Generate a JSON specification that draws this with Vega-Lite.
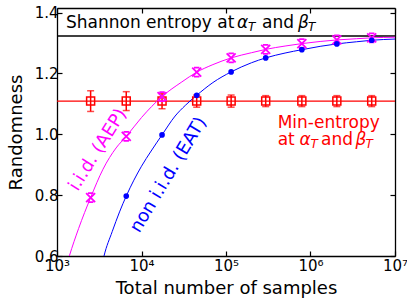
{
  "$schema": "https://vega.github.io/schema/vega-lite/v6.json",
  "width": 338,
  "height": 248,
  "autosize": {"type": "none"},
  "padding": {"left": 57, "top": 8, "right": 12, "bottom": 49},
  "config": {
    "font": "DejaVu Sans",
    "text": {"font": "DejaVu Sans"},
    "view": {"stroke": null},
    "axis": {
      "domainColor": "black",
      "domainWidth": 1.3,
      "tickColor": "black",
      "tickWidth": 1.2,
      "grid": false,
      "labelFont": "DejaVu Sans",
      "labelFontSize": 15,
      "labelColor": "black",
      "titleFont": "DejaVu Sans",
      "titleFontSize": 18,
      "titleFontWeight": "normal",
      "titleColor": "black",
      "labelFlush": false,
      "labelOverlap": false
    }
  },
  "datasets": {
    "pts": [
      {"n": 2500, "iid": 0.792, "noniid": null, "minent": 1.109, "err": 0.034},
      {"n": 6600, "iid": 0.993, "noniid": 0.797, "minent": 1.109, "err": 0.031},
      {"n": 17500, "iid": 1.124, "noniid": 0.998, "minent": 1.109, "err": 0.025},
      {"n": 45000, "iid": 1.204, "noniid": 1.128, "minent": 1.109, "err": 0.02},
      {"n": 115000, "iid": 1.251, "noniid": 1.205, "minent": 1.109, "err": 0.02},
      {"n": 295000, "iid": 1.279, "noniid": 1.251, "minent": 1.109, "err": 0.018},
      {"n": 790000, "iid": 1.298, "noniid": 1.278, "minent": 1.109, "err": 0.018},
      {"n": 2050000, "iid": 1.310, "noniid": 1.297, "minent": 1.109, "err": 0.018},
      {"n": 5300000, "iid": 1.317, "noniid": 1.309, "minent": 1.109, "err": 0.018}
    ],
    "iidcurve": [
      {"n": 1300, "r": 0.57}, {"n": 1400, "r": 0.60}, {"n": 1800, "r": 0.69},
      {"n": 2500, "r": 0.792}, {"n": 3500, "r": 0.885}, {"n": 5000, "r": 0.955},
      {"n": 6600, "r": 0.993}, {"n": 10000, "r": 1.055}, {"n": 17500, "r": 1.124},
      {"n": 30000, "r": 1.172}, {"n": 45000, "r": 1.204}, {"n": 70000, "r": 1.229},
      {"n": 115000, "r": 1.251}, {"n": 200000, "r": 1.268}, {"n": 295000, "r": 1.279},
      {"n": 500000, "r": 1.290}, {"n": 790000, "r": 1.298}, {"n": 1300000, "r": 1.305},
      {"n": 2050000, "r": 1.310}, {"n": 3500000, "r": 1.314}, {"n": 5300000, "r": 1.317},
      {"n": 10000000, "r": 1.319}
    ],
    "noniidcurve": [
      {"n": 3400, "r": 0.57}, {"n": 3600, "r": 0.60}, {"n": 4500, "r": 0.68},
      {"n": 5500, "r": 0.745}, {"n": 6600, "r": 0.797}, {"n": 10000, "r": 0.895},
      {"n": 13000, "r": 0.945}, {"n": 17500, "r": 0.998}, {"n": 25000, "r": 1.06},
      {"n": 33000, "r": 1.095}, {"n": 45000, "r": 1.128}, {"n": 70000, "r": 1.170},
      {"n": 115000, "r": 1.205}, {"n": 200000, "r": 1.235}, {"n": 295000, "r": 1.251},
      {"n": 500000, "r": 1.267}, {"n": 790000, "r": 1.278}, {"n": 1300000, "r": 1.289},
      {"n": 2050000, "r": 1.297}, {"n": 3500000, "r": 1.304}, {"n": 5300000, "r": 1.309},
      {"n": 10000000, "r": 1.313}
    ]
  },
  "layer": [
    {
      "data": {"values": [{}]},
      "mark": {"type": "rule", "color": "black", "strokeWidth": 1.5},
      "encoding": {"y": {"datum": 1.323, "type": "quantitative", "axis": null}}
    },
    {
      "data": {"values": [{}]},
      "mark": {"type": "rule", "color": "#ff0000", "strokeWidth": 1.2},
      "encoding": {"y": {"datum": 1.109, "type": "quantitative", "axis": null}}
    },
    {
      "data": {"name": "iidcurve"},
      "mark": {"type": "line", "color": "#ff00ff", "strokeWidth": 1, "interpolate": "monotone", "clip": true},
      "encoding": {
        "x": {"field": "n", "type": "quantitative",
              "scale": {"type": "log", "domain": [1000, 10000000]},
              "axis": {"orient": "top", "values": [1000, 10000, 100000, 1000000, 10000000], "labels": false, "title": null, "tickSize": -5, "domain": true}},
        "y": {"field": "r", "type": "quantitative",
              "scale": {"domain": [0.6, 1.415], "nice": false, "zero": false},
              "axis": {"orient": "right", "values": [0.6, 0.8, 1.0, 1.2, 1.4], "labels": false, "title": null, "tickSize": -5, "domain": true}}
      }
    },
    {
      "data": {"name": "noniidcurve"},
      "mark": {"type": "line", "color": "#0000ff", "strokeWidth": 1, "interpolate": "monotone", "clip": true},
      "encoding": {
        "x": {"field": "n", "type": "quantitative", "axis": null},
        "y": {"field": "r", "type": "quantitative", "axis": null}
      }
    },
    {
      "data": {"name": "pts"},
      "mark": {"type": "rule", "color": "#ff0000", "strokeWidth": 1.5},
      "encoding": {
        "x": {"field": "n", "type": "quantitative", "axis": null},
        "y": {"field": "lo", "type": "quantitative", "axis": null},
        "y2": {"field": "hi"}
      },
      "transform": [{"calculate": "datum.minent - datum.err", "as": "lo"}, {"calculate": "datum.minent + datum.err", "as": "hi"}]
    },
    {
      "data": {"name": "pts"},
      "transform": [{"calculate": "datum.minent - datum.err", "as": "lo"}],
      "mark": {"type": "tick", "color": "#ff0000", "orient": "horizontal", "size": 7, "thickness": 1.5},
      "encoding": {
        "x": {"field": "n", "type": "quantitative", "axis": null},
        "y": {"field": "lo", "type": "quantitative", "axis": null}
      }
    },
    {
      "data": {"name": "pts"},
      "transform": [{"calculate": "datum.minent + datum.err", "as": "hi"}],
      "mark": {"type": "tick", "color": "#ff0000", "orient": "horizontal", "size": 7, "thickness": 1.5},
      "encoding": {
        "x": {"field": "n", "type": "quantitative", "axis": null},
        "y": {"field": "hi", "type": "quantitative", "axis": null}
      }
    },
    {
      "data": {"name": "pts"},
      "mark": {"type": "point", "shape": "square", "filled": false, "color": "#ff0000", "size": 64, "strokeWidth": 1.5, "opacity": 1},
      "encoding": {
        "x": {"field": "n", "type": "quantitative",
              "axis": {"orient": "bottom", "values": [1000, 10000, 100000, 1000000, 10000000],
                       "labelExpr": "'10' + ['³','⁴','⁵','⁶','⁷'][round(log(datum.value)/LN10) - 3]",
                       "title": "Total number of samples", "tickSize": -5, "labelPadding": 7, "titlePadding": 6}},
        "y": {"field": "minent", "type": "quantitative",
              "axis": {"orient": "left", "values": [0.6, 0.8, 1.0, 1.2, 1.4], "format": ".1f",
                       "title": "Randomness", "tickSize": -5, "labelPadding": 4, "titlePadding": 9}}
      }
    },
    {
      "data": {"name": "pts"},
      "mark": {"type": "point", "shape": "M-1,-1L1,1M-1,1L1,-1M-0.6,-1L0.6,-1M-0.6,1L0.6,1", "filled": false, "color": "#ff00ff", "size": 81, "strokeWidth": 1.8, "opacity": 1},
      "encoding": {
        "x": {"field": "n", "type": "quantitative", "axis": null},
        "y": {"field": "iid", "type": "quantitative", "axis": null}
      }
    },
    {
      "data": {"name": "pts"},
      "transform": [{"filter": "datum.noniid != null"}],
      "mark": {"type": "point", "shape": "circle", "filled": true, "color": "#0000ff", "size": 32, "opacity": 1},
      "encoding": {
        "x": {"field": "n", "type": "quantitative", "axis": null},
        "y": {"field": "noniid", "type": "quantitative", "axis": null}
      }
    },
    {
      "data": {"values": [{}]},
      "mark": {"type": "text", "font": "DejaVu Sans", "fontSize": 17, "align": "left", "baseline": "alphabetic", "dx": 9, "color": "black"},
      "encoding": {"x": {"datum": 1000, "type": "quantitative", "axis": null}, "y": {"datum": 1.348, "type": "quantitative", "axis": null}, "text": {"value": "Shannon entropy at"}}
    },
    {
      "data": {"values": [{}]},
      "mark": {"type": "text", "font": "DejaVu Sans", "fontSize": 17, "fontStyle": "italic", "align": "left", "baseline": "alphabetic", "dx": 180, "color": "black"},
      "encoding": {"x": {"datum": 1000, "type": "quantitative", "axis": null}, "y": {"datum": 1.348, "type": "quantitative", "axis": null}, "text": {"value": "α"}}
    },
    {
      "data": {"values": [{}]},
      "mark": {"type": "text", "font": "DejaVu Sans", "fontSize": 12, "fontStyle": "italic", "align": "left", "baseline": "alphabetic", "dx": 191, "dy": 3, "color": "black"},
      "encoding": {"x": {"datum": 1000, "type": "quantitative", "axis": null}, "y": {"datum": 1.348, "type": "quantitative", "axis": null}, "text": {"value": "T"}}
    },
    {
      "data": {"values": [{}]},
      "mark": {"type": "text", "font": "DejaVu Sans", "fontSize": 17, "align": "left", "baseline": "alphabetic", "dx": 205, "color": "black"},
      "encoding": {"x": {"datum": 1000, "type": "quantitative", "axis": null}, "y": {"datum": 1.348, "type": "quantitative", "axis": null}, "text": {"value": "and"}}
    },
    {
      "data": {"values": [{}]},
      "mark": {"type": "text", "font": "DejaVu Sans", "fontSize": 17, "fontStyle": "italic", "align": "left", "baseline": "alphabetic", "dx": 241, "color": "black"},
      "encoding": {"x": {"datum": 1000, "type": "quantitative", "axis": null}, "y": {"datum": 1.348, "type": "quantitative", "axis": null}, "text": {"value": "β"}}
    },
    {
      "data": {"values": [{}]},
      "mark": {"type": "text", "font": "DejaVu Sans", "fontSize": 12, "fontStyle": "italic", "align": "left", "baseline": "alphabetic", "dx": 251, "dy": 3, "color": "black"},
      "encoding": {"x": {"datum": 1000, "type": "quantitative", "axis": null}, "y": {"datum": 1.348, "type": "quantitative", "axis": null}, "text": {"value": "T"}}
    },
    {
      "data": {"values": [{}]},
      "mark": {"type": "text", "font": "DejaVu Sans", "fontSize": 17, "align": "left", "baseline": "alphabetic", "dx": 220.7, "color": "#ff0000"},
      "encoding": {"x": {"datum": 1000, "type": "quantitative", "axis": null}, "y": {"datum": 1.021, "type": "quantitative", "axis": null}, "text": {"value": "Min-entropy"}}
    },
    {
      "data": {"values": [{}]},
      "mark": {"type": "text", "font": "DejaVu Sans", "fontSize": 17, "align": "left", "baseline": "alphabetic", "dx": 220.7, "color": "#ff0000"},
      "encoding": {"x": {"datum": 1000, "type": "quantitative", "axis": null}, "y": {"datum": 0.966, "type": "quantitative", "axis": null}, "text": {"value": "at"}}
    },
    {
      "data": {"values": [{}]},
      "mark": {"type": "text", "font": "DejaVu Sans", "fontSize": 17, "fontStyle": "italic", "align": "left", "baseline": "alphabetic", "dx": 242.5, "color": "#ff0000"},
      "encoding": {"x": {"datum": 1000, "type": "quantitative", "axis": null}, "y": {"datum": 0.966, "type": "quantitative", "axis": null}, "text": {"value": "α"}}
    },
    {
      "data": {"values": [{}]},
      "mark": {"type": "text", "font": "DejaVu Sans", "fontSize": 12, "fontStyle": "italic", "align": "left", "baseline": "alphabetic", "dx": 253.5, "dy": 3, "color": "#ff0000"},
      "encoding": {"x": {"datum": 1000, "type": "quantitative", "axis": null}, "y": {"datum": 0.966, "type": "quantitative", "axis": null}, "text": {"value": "T"}}
    },
    {
      "data": {"values": [{}]},
      "mark": {"type": "text", "font": "DejaVu Sans", "fontSize": 17, "align": "left", "baseline": "alphabetic", "dx": 264, "color": "#ff0000"},
      "encoding": {"x": {"datum": 1000, "type": "quantitative", "axis": null}, "y": {"datum": 0.966, "type": "quantitative", "axis": null}, "text": {"value": "and"}}
    },
    {
      "data": {"values": [{}]},
      "mark": {"type": "text", "font": "DejaVu Sans", "fontSize": 17, "fontStyle": "italic", "align": "left", "baseline": "alphabetic", "dx": 298.5, "color": "#ff0000"},
      "encoding": {"x": {"datum": 1000, "type": "quantitative", "axis": null}, "y": {"datum": 0.966, "type": "quantitative", "axis": null}, "text": {"value": "β"}}
    },
    {
      "data": {"values": [{}]},
      "mark": {"type": "text", "font": "DejaVu Sans", "fontSize": 12, "fontStyle": "italic", "align": "left", "baseline": "alphabetic", "dx": 308.5, "dy": 3, "color": "#ff0000"},
      "encoding": {"x": {"datum": 1000, "type": "quantitative", "axis": null}, "y": {"datum": 0.966, "type": "quantitative", "axis": null}, "text": {"value": "T"}}
    },
    {
      "data": {"values": [{}]},
      "mark": {"type": "text", "font": "DejaVu Sans", "fontSize": 18, "align": "center", "baseline": "middle", "angle": -58, "color": "#ff00ff"},
      "encoding": {"x": {"datum": 3060, "type": "quantitative", "axis": null}, "y": {"datum": 0.9485, "type": "quantitative", "axis": null}, "text": {"value": "i.i.d. (AEP)"}}
    },
    {
      "data": {"values": [{}]},
      "mark": {"type": "text", "font": "DejaVu Sans", "fontSize": 18, "align": "center", "baseline": "middle", "angle": -59, "color": "#0000ff"},
      "encoding": {"x": {"datum": 21000, "type": "quantitative", "axis": null}, "y": {"datum": 0.866, "type": "quantitative", "axis": null}, "text": {"value": "non i.i.d. (EAT)"}}
    }
  ],
  "resolve": {"axis": {"x": "independent", "y": "independent"}}
}
